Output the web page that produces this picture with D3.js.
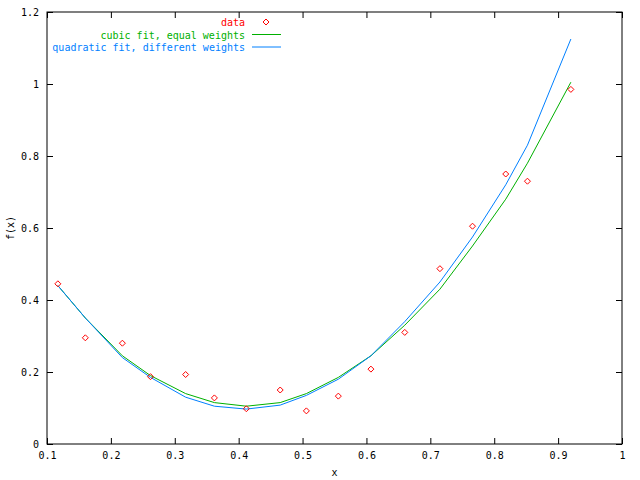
<!DOCTYPE html><html><head><script src="https://cdn.jsdelivr.net/npm/d3@7"></script>
<style>body{margin:0;background:#fff}</style></head><body><svg id="c" width="640" height="480"></svg><script>
const xs=[0.117,0.16,0.218,0.262,0.317,0.362,0.412,0.465,0.506,0.556,0.607,0.66,0.715,0.766,0.818,0.852,0.92];
const data=[0.445,0.295,0.28,0.187,0.193,0.128,0.098,0.15,0.092,0.133,0.208,0.31,0.487,0.605,0.75,0.73,0.985];
const cubic=[0.44,0.35,0.245,0.19,0.14,0.115,0.105,0.115,0.14,0.185,0.245,0.33,0.43,0.55,0.68,0.78,1.005];
const quad=[0.44,0.35,0.24,0.185,0.13,0.105,0.097,0.108,0.135,0.18,0.245,0.34,0.45,0.575,0.72,0.83,1.125];
const xTicks=[0.1,0.2,0.3,0.4,0.5,0.6,0.7,0.8,0.9,1];
const yTicks=[0,0.2,0.4,0.6,0.8,1,1.2];
const svg=d3.select("#c"),L=47,R=622,T=12,B=444,F="DejaVu Sans Mono, monospace";
const x=d3.scaleLinear([0.1,1],[L,R]),y=d3.scaleLinear([0,1.2],[B,T]);
const g=svg.append("g").attr("font-family",F).attr("font-size",10);
const ax=(s,tr,sc,t)=>g.append("g").attr("transform",tr).call(s(sc).tickValues(t).tickSize(-6).tickSizeOuter(0).tickPadding(8).tickFormat(d3.format("~g"))).call(a=>{a.select(".domain").remove();a.selectAll("text").attr("font-family",F).attr("font-size",10)});
ax(d3.axisBottom,`translate(0,${B})`,x,xTicks);ax(d3.axisTop,`translate(0,${T})`,x,xTicks).selectAll("text").remove();
ax(d3.axisLeft,`translate(${L},0)`,y,yTicks);ax(d3.axisRight,`translate(${R},0)`,y,yTicks).selectAll("text").remove();
g.append("rect").attr("x",L).attr("y",T).attr("width",R-L).attr("height",B-T).attr("fill","none").attr("stroke","#000");
g.append("text").attr("x",(L+R)/2).attr("y",476).attr("text-anchor","middle").text("x");
g.append("text").attr("transform","translate(14,228) rotate(-90)").attr("text-anchor","middle").text("f(x)");
const ln=d3.line().x((d,i)=>x(xs[i])).y(d=>y(d));
g.append("path").attr("d",ln(cubic)).attr("fill","none").attr("stroke","#00b000");
g.append("path").attr("d",ln(quad)).attr("fill","none").attr("stroke","#0080ff");
const dia=(cx,cy)=>`M${cx},${cy-3}L${cx+3},${cy}L${cx},${cy+3}L${cx-3},${cy}Z`;
g.selectAll(".p").data(data).join("path").attr("d",(d,i)=>dia(x(xs[i]),y(d))).attr("fill","none").attr("stroke","#f00");
const leg=[["data","#f00"],["cubic fit, equal weights","#00b000"],["quadratic fit, different weights","#0080ff"]];
leg.forEach(([t,c],i)=>{const yy=22+i*12.5;g.append("text").attr("x",245).attr("y",yy+4).attr("text-anchor","end").attr("fill",c).text(t);
if(i==0)g.append("path").attr("d",dia(266,yy)).attr("fill","none").attr("stroke",c);else g.append("line").attr("x1",252).attr("x2",281).attr("y1",yy).attr("y2",yy).attr("stroke",c);});
</script></body></html>
